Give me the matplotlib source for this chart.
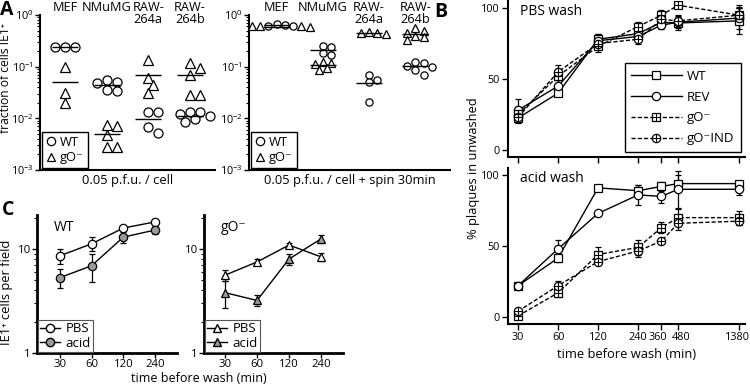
import numpy as np
import matplotlib.pyplot as plt
import matplotlib.transforms as mtransforms
from matplotlib.lines import Line2D

plt.rcParams['font.family'] = ['Open Sans', 'DejaVu Sans']
plt.rcParams['mathtext.fontset'] = 'custom'
plt.rcParams['mathtext.rm'] = 'Open Sans'
plt.rcParams['mathtext.it'] = 'Open Sans:italic'
plt.rcParams['font.size'] = 9

# === Panel A data (fraction of IE1+ cells) ===
cells = ['MEF', 'NMuMG', 'RAW-\n264a', 'RAW-\n264b']
a_low_wt = [[0.24, 0.24, 0.24],
            [0.055, 0.05, 0.048, 0.036, 0.034],
            [0.013, 0.013, 0.0068, 0.0052],
            [0.013, 0.013, 0.012, 0.011, 0.0095, 0.0085]]
a_low_go = [[0.1, 0.031, 0.02],
            [0.0075, 0.007, 0.0048, 0.0028, 0.0028],
            [0.135, 0.06, 0.044, 0.031],
            [0.12, 0.095, 0.07, 0.028, 0.028]]
a_spin_wt = [[0.68, 0.64, 0.62, 0.62],
             [0.25, 0.24, 0.18, 0.17],
             [0.07, 0.056, 0.05, 0.021],
             [0.125, 0.12, 0.105, 0.1, 0.085, 0.07]]
a_spin_go = [[0.6, 0.6, 0.6, 0.58],
             [0.125, 0.12, 0.115, 0.095, 0.085],
             [0.47, 0.45, 0.44, 0.43],
             [0.55, 0.5, 0.45, 0.4, 0.37, 0.33]]

# === Panel B data (% plaques in unwashed) ===
times_b = [30, 60, 120, 240, 360, 480, 1380]
pbs_wt = [22.5, 40, 78, 82, 90, 89.5, 91]
pbs_wt_err = [3, 2, 4, 3, 4, 5, 9]
pbs_rev = [28, 45, 77, 80, 88, 90, 93]
pbs_rev_err = [8, 4, 5, 4, 3, 4, 8]
pbs_go = [25, 52, 73, 87, 95, 102, 95]
pbs_go_err = [5, 5, 4, 3, 4, 2, 7]
pbs_goind = [23, 55, 75, 78, 92, 91, 95]
pbs_goind_err = [4, 5, 3, 3, 4, 4, 5]

acid_wt = [22, 41.5, 91, 89, 92, 94, 94]
acid_wt_err = [2, 3, 2, 4, 3, 6, 2]
acid_rev = [22, 48, 73, 86, 85, 90, 90]
acid_rev_err = [2, 6, 2, 7, 5, 13, 4]
acid_go = [0.7, 17, 44, 49, 63, 70, 70]
acid_go_err = [2, 3, 5, 5, 4, 6, 5]
acid_goind = [4, 22, 39, 46.5, 53.5, 66, 67.5]
acid_goind_err = [2, 3, 2, 4, 2, 5, 3]

# === Panel C data (IE1+ cells per field) ===
times_c = [30, 60, 120, 240]
c_wt_pbs = [8.6, 11.2, 15.9, 18.2]
c_wt_pbs_err = [1.5, 1.7, 0.8, 1.0]
c_wt_acid = [5.3, 6.9, 13, 15.2]
c_wt_acid_err = [1.1, 2.1, 1.6, 1.4]
c_go_pbs = [5.6, 7.5, 10.9, 8.4]
c_go_pbs_err = [0.7, 0.5, 0.6, 0.8]
c_go_acid = [3.8, 3.2, 8.0, 12.5]
c_go_acid_err = [1.1, 0.4, 1.0, 1.2]

GRAY = '#9a9a9a'
W, H = 750, 386

fig = plt.figure(figsize=(7.5, 3.86), dpi=100)


def px_axes(l, t, r, b):
    return fig.add_axes([l / W, 1 - b / H, (r - l) / W, (b - t) / H])


def style_spines(ax, lw=1.5):
    for s in ['top', 'right']:
        ax.spines[s].set_visible(False)
    for s in ['left', 'bottom']:
        ax.spines[s].set_linewidth(lw)


def swarm_offsets(vals, d_px, px_per_unit, px_per_dec):
    # simple beeswarm: place points one by one, allowing a little overlap
    placed, out = [], []
    cands = [0.0]
    for k in range(1, 12):
        cands += [k * d_px / 2, -k * d_px / 2]
    for v in vals:
        y = np.log10(v) * px_per_dec
        for off in cands:
            if all((off - px) ** 2 + (y - py) ** 2 >= (0.8 * d_px) ** 2 for px, py in placed):
                break
        placed.append((off, y))
        out.append(off / px_per_unit)
    return out


def dot_panel(box, xlim, wt, go, ms, xlabel):
    l, t, r, b = box
    ax = px_axes(l, t, r, b)
    style_spines(ax)
    ax.set_yscale('log')
    ax.set_ylim(1e-3, 1)
    ax.set_xlim(*xlim)
    ax.set_xticks([])
    ax.tick_params(axis='y', which='major', direction='out', length=3.5, width=1,
                   labelsize=7.8, pad=1)
    ax.tick_params(axis='y', which='minor', direction='out', length=2, width=0.8)
    ppu = (r - l) / (xlim[1] - xlim[0])
    ppd = (b - t) / 3.0
    d_px = ms * 1.39 + 1
    for i in range(len(cells)):
        vals = list(wt[i]) + list(go[i])
        kinds = ['o'] * len(wt[i]) + ['^'] * len(go[i])
        order = np.argsort(vals)[::-1]
        offs = swarm_offsets([vals[k] for k in order], d_px, ppu, ppd)
        for k, off in zip(order, offs):
            ax.plot(i + off, vals[k], ls='none', marker=kinds[k], ms=ms,
                    mfc='white', mec='black', mew=0.9, zorder=3)
        hw = 13 / ppu
        for grp in (wt[i], go[i]):
            ax.hlines(np.mean(grp), i - hw, i + hw, color='black', lw=1, zorder=4)
    trans = mtransforms.blended_transform_factory(ax.transData, ax.transAxes)
    for i, c in enumerate(cells):
        ax.text(i, 1.09, c, transform=trans, ha='center', va='top', fontsize=9.2,
                linespacing=0.9, clip_on=False)
    ax.text(0.5, -0.065, xlabel, transform=ax.transAxes, ha='center', va='center', fontsize=9.3)
    handles = [Line2D([], [], ls='none', marker='o', ms=6, mfc='white', mec='black', mew=0.9),
               Line2D([], [], ls='none', marker='^', ms=6, mfc='white', mec='black', mew=0.9)]
    leg = ax.legend(handles, ['WT', 'gO\u207b'], loc='lower left', fancybox=False,
                    edgecolor='black', framealpha=1, borderaxespad=0.15, handlelength=0.8,
                    handletextpad=0.3, labelspacing=0.2, borderpad=0.3, fontsize=9.3)
    leg.get_frame().set_linewidth(1)
    return ax


axA1 = dot_panel((40, 15, 215, 170), (-0.6, 3.6), a_low_wt, a_low_go, 6.5,
                 '0.05 p.f.u. / cell')
axA2 = dot_panel((249, 15, 450, 170), (-0.6, 3.75), a_spin_wt, a_spin_go, 5.2,
                 '0.05 p.f.u. / cell + spin 30min')

fig.text(5.8 / W, 1 - 78 / H, 'fraction of cells IE1\u207a', rotation=90,
         ha='center', va='center', fontsize=8.7)


# === Panel B ===
def b_panel(box, series, title, show_xlabels):
    ax = px_axes(*box)
    style_spines(ax)
    ax.set_xscale('log')
    ax.set_xlim(25.2, 1530)
    ax.set_ylim(-5, 105)
    ax.set_xticks(times_b)
    ax.xaxis.set_minor_locator(plt.NullLocator())
    ax.set_yticks([0, 50, 100])
    if show_xlabels:
        ax.set_xticklabels([str(t) for t in times_b])
    else:
        ax.set_xticklabels([])
    ax.tick_params(direction='out', length=4, width=1, pad=2, labelsize=7.8)
    for vals, err, mk, ls in series:
        ax.errorbar(times_b, vals, yerr=err, color='black', ls=ls, lw=1,
                    marker=mk, ms=6, mfc='white', mec='black', mew=0.9,
                    capsize=2.5, elinewidth=0.9, capthick=0.9, zorder=3,
                    dashes=(3, 1.5) if ls == '--' else (None, None))
        if ls == '--':
            ax.plot(times_b, vals, ls='none', marker='+', ms=6, mew=0.8,
                    color='black', zorder=4)
    ax.text(0.05, 0.93, title, transform=ax.transAxes, ha='left', va='center', fontsize=10)
    return ax


axB1 = b_panel((508, 1, 745, 157),
               [(pbs_wt, pbs_wt_err, 's', '-'), (pbs_rev, pbs_rev_err, 'o', '-'),
                (pbs_go, pbs_go_err, 's', '--'), (pbs_goind, pbs_goind_err, 'o', '--')],
               'PBS wash', False)
axB2 = b_panel((508, 168, 745, 324),
               [(acid_wt, acid_wt_err, 's', '-'), (acid_rev, acid_rev_err, 'o', '-'),
                (acid_go, acid_go_err, 's', '--'), (acid_goind, acid_goind_err, 'o', '--')],
               'acid wash', True)
axB2.set_xlabel('time before wash (min)', fontsize=9.3, labelpad=3)
# nudge the crowded labels apart, as in the original
for lab, dx in zip(axB2.get_xticklabels(), [0, 0, 0, 0, -4, 3, -2]):
    lab.set_transform(lab.get_transform() +
                      mtransforms.ScaledTranslation(dx / 100, 0, fig.dpi_scale_trans))

kw = dict(color='black', mfc='white', mec='black', mew=0.9, ms=6, lw=1)
plus = dict(ls='none', marker='+', ms=6, mew=0.8, color='black')
b_handles = [Line2D([], [], marker='s', ls='-', **kw),
             Line2D([], [], marker='o', ls='-', **kw),
             (Line2D([], [], marker='s', ls='--', dashes=(3, 1.5), **kw), Line2D([], [], **plus)),
             (Line2D([], [], marker='o', ls='--', dashes=(3, 1.5), **kw), Line2D([], [], **plus))]
legB = axB1.legend(b_handles, ['WT', 'REV', 'gO\u207b', 'gO\u207bIND'], loc='lower right',
                   bbox_to_anchor=(1.01, -0.01), fancybox=False, edgecolor='black',
                   framealpha=1, handlelength=3.8, handletextpad=0.4, labelspacing=0.6,
                   borderpad=0.5, fontsize=9.5)
legB.get_frame().set_linewidth(1)

fig.text(473 / W, 1 - 168 / H, '% plaques in unwashed', rotation=90,
         ha='center', va='center', fontsize=9.3)


# === Panel C ===
def c_panel(box, xlim, pbs, pbs_err, acid, acid_err, mk, title):
    ax = px_axes(*box)
    style_spines(ax, 2)
    ax.set_xscale('log')
    ax.set_yscale('log')
    ax.set_xlim(*xlim)
    ax.set_ylim(1, 21.2)
    ax.set_xticks(times_c)
    ax.set_xticklabels([str(t) for t in times_c])
    ax.xaxis.set_minor_locator(plt.NullLocator())
    ax.set_yticks([1, 10])
    ax.set_yticklabels(['1', '10'])
    ax.tick_params(axis='both', which='major', direction='out', length=3.5, width=1, pad=1,
                   labelsize=8.2)
    ax.tick_params(axis='y', which='minor', direction='out', length=2, width=0.8)
    ax.yaxis.set_minor_formatter(plt.NullFormatter())
    for vals, err, fc in [(pbs, pbs_err, 'white'), (acid, acid_err, GRAY)]:
        ax.errorbar(times_c, vals, yerr=err, color='black', lw=1, marker=mk, ms=6,
                    mfc=fc, mec='black', mew=0.9, capsize=2.5, elinewidth=0.9,
                    capthick=0.9, zorder=3)
    ax.text(0.12, 0.91, title, transform=ax.transAxes, ha='left', va='center', fontsize=10)
    handles = [Line2D([], [], marker=mk, color='black', lw=1, ms=6, mfc='white', mec='black'),
               Line2D([], [], marker=mk, color='black', lw=1, ms=6, mfc=GRAY, mec='black')]
    leg = ax.legend(handles, ['PBS', 'acid'], loc='lower left', fancybox=False,
                    edgecolor='#555555', framealpha=1, borderaxespad=0.05, handlelength=1.5,
                    handletextpad=0.4, labelspacing=0.1, borderpad=0.2, fontsize=9.5)
    leg.get_frame().set_linewidth(0.8)
    return ax


axC1 = c_panel((37, 215, 177, 353), (18.2, 387), c_wt_pbs, c_wt_pbs_err,
               c_wt_acid, c_wt_acid_err, 'o', 'WT')
axC2 = c_panel((204, 215, 343, 353), (19.0, 387), c_go_pbs, c_go_pbs_err,
               c_go_acid, c_go_acid_err, '^', 'gO\u207b')

fig.text(199 / W, 1 - 379 / H, 'time before wash (min)', ha='center', va='center', fontsize=9)
fig.text(7 / W, 1 - 292 / H, 'IE1\u207a cells per field', rotation=90,
         ha='center', va='center', fontsize=9.3)

# panel letters
for x, y, s in [(7, 10, 'A'), (441, 12, 'B'), (8, 210, 'C')]:
    fig.text(x / W, 1 - y / H, s, ha='center', va='center', fontsize=14, fontweight='bold')

fig.savefig('out.png', dpi=100)
